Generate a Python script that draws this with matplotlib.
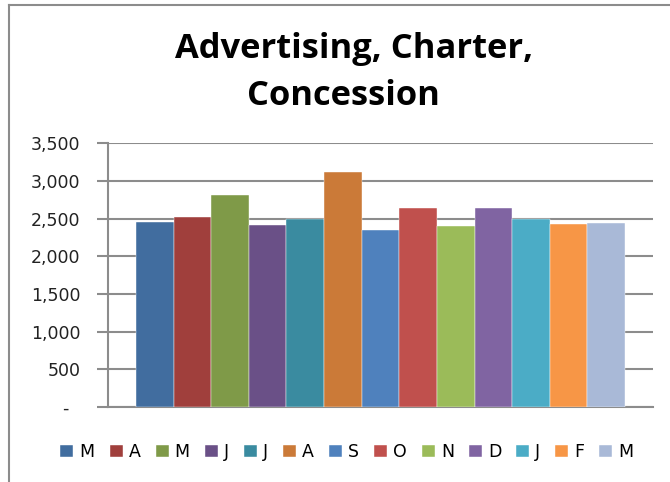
import numpy as np
import matplotlib.pyplot as plt
from matplotlib.patches import Patch
from matplotlib.lines import Line2D

months = ['M', 'A', 'M', 'J', 'J', 'A', 'S', 'O', 'N', 'D', 'J', 'F', 'M']
values = [2460, 2525, 2815, 2415, 2500, 3115, 2350, 2635, 2400, 2635, 2500, 2430, 2440]
colors = ['#416D9F', '#A03F3C', '#7F9A48', '#6A5087', '#3A8BA0', '#CB7A38',
          '#4F81BD', '#C0504D', '#9BBB59', '#8064A2', '#4BACC6', '#F79646', '#A9B9D7']
yticks = [0, 500, 1000, 1500, 2000, 2500, 3000, 3500]
ylabels = ['-  ', '500', '1,000', '1,500', '2,000', '2,500', '3,000', '3,500']

plt.rcParams['font.family'] = ['DejaVu Sans']

fig = plt.figure(figsize=(6.7, 4.82), dpi=100)
ax = fig.add_axes([108/670, 1-407/482, 545/670, (407-143.3)/482])

x = np.arange(len(values))
for i in range(len(values)):
    ax.bar(x[i], values[i], width=1.0, color=colors[i], edgecolor='white', linewidth=0.3, zorder=3)

ax.set_xlim(-0.5-0.745, len(values)-0.5+0.745)
ax.set_ylim(0, 3500)
ax.set_yticks(yticks)
ax.set_yticklabels(ylabels, fontsize=12.5, color='#222222')
ax.set_xticks([])
ax.yaxis.grid(True, color='#8c8c8c', linewidth=1.5, zorder=0)
for s in ['top', 'right']:
    ax.spines[s].set_visible(False)
for s in ['left', 'bottom']:
    ax.spines[s].set_color('#8c8c8c')
    ax.spines[s].set_linewidth(1.5)
ax.tick_params(axis='y', length=8, width=1.5, color='#8c8c8c', pad=12)

fig.text(0.528, 1-58/482, 'Advertising, Charter,', ha='center', va='baseline',
         fontsize=24.8, fontweight='bold', color='black', family='Open Sans')
fig.text(0.512, 1-105/482, 'Concession', ha='center', va='baseline',
         fontsize=24.8, fontweight='bold', color='black', family='Open Sans')

handles = [Patch(facecolor=c, edgecolor='white', linewidth=0.3) for c in colors]
fig.legend(handles, months, loc='center', bbox_to_anchor=(0.518, 1-452/482), ncol=13,
           frameon=False, fontsize=12.5, handlelength=0.75, handleheight=0.75,
           handletextpad=0.35, columnspacing=0.86)

# chart frame (partially cropped)
fig.add_artist(Line2D([8.5/670, 1], [1-5/482, 1-5/482], color='#8c8c8c', linewidth=1.5))
fig.add_artist(Line2D([8.5/670, 8.5/670], [0, 1-5/482], color='#8c8c8c', linewidth=1.5))

fig.savefig('out.png', dpi=100)
